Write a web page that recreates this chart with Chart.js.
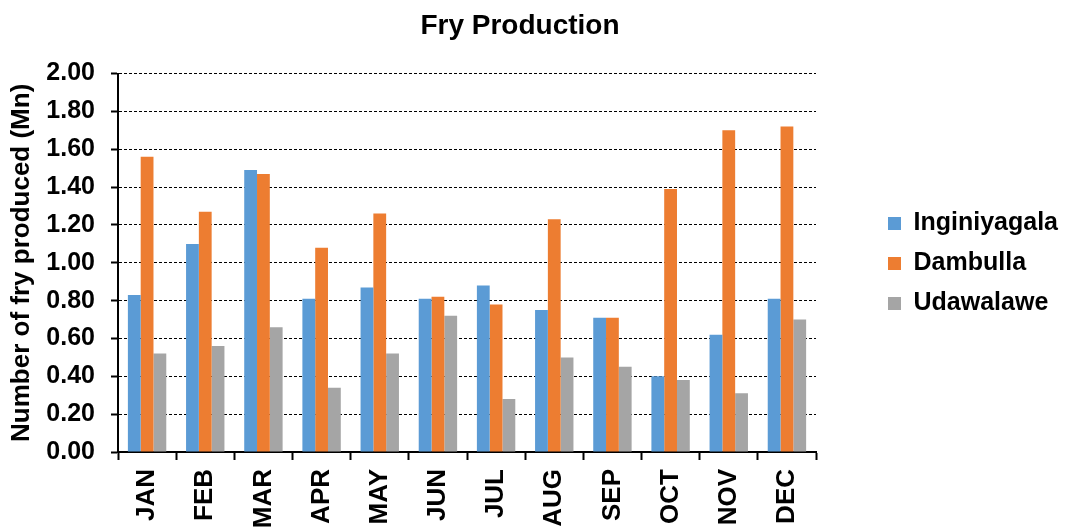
<!DOCTYPE html>
<html>
<head>
<meta charset="utf-8">
<title>Fry Production</title>
<script src="https://cdn.jsdelivr.net/npm/chart.js@4/dist/chart.umd.min.js"></script>
<style>
  html, body { margin: 0; padding: 0; background: #ffffff; }
  #wrap { width: 1068px; height: 527px; position: relative; }
</style>
</head>
<body>
<div id="wrap"><canvas id="fry"></canvas></div>
<script>
// Monthly fry production (millions) per hatchery
const months = ['JAN', 'FEB', 'MAR', 'APR', 'MAY', 'JUN', 'JUL', 'AUG', 'SEP', 'OCT', 'NOV', 'DEC'];
const inginiyagala = [0.83, 1.10, 1.49, 0.81, 0.87, 0.81, 0.88, 0.75, 0.71, 0.40, 0.62, 0.81];
const dambulla     = [1.56, 1.27, 1.47, 1.08, 1.26, 0.82, 0.78, 1.23, 0.71, 1.39, 1.70, 1.72];
const udawalawe    = [0.52, 0.56, 0.66, 0.34, 0.52, 0.72, 0.28, 0.50, 0.45, 0.38, 0.31, 0.70];
const yTickValues  = [0, 0.2, 0.4, 0.6, 0.8, 1.0, 1.2, 1.4, 1.6, 1.8, 2.0];

const FONT = '"Liberation Sans", Arial, sans-serif';

// Nudge the title slightly left of the full-width centre
const titleShift = {
  id: 'titleShift',
  afterLayout(chart) {
    const t = chart.titleBlock;
    if (t) { t.right -= 28; }
  }
};

new Chart(document.getElementById('fry'), {
  type: 'bar',
  data: {
    labels: months,
    datasets: [
      { label: 'Inginiyagala', data: inginiyagala, backgroundColor: '#5B9BD5', borderWidth: 0 },
      { label: 'Dambulla',     data: dambulla,     backgroundColor: '#ED7D31', borderWidth: 0 },
      { label: 'Udawalawe',    data: udawalawe,    backgroundColor: '#A5A5A5', borderWidth: 0 }
    ]
  },
  options: {
    responsive: true,
    maintainAspectRatio: false,
    animation: false,
    devicePixelRatio: 1,
    layout: { padding: 0 },
    datasets: {
      bar: { categoryPercentage: 0.66, barPercentage: 1.0 }
    },
    plugins: {
      tooltip: { enabled: false },
      title: {
        display: true,
        text: 'Fry Production',
        color: '#000000',
        font: { family: FONT, size: 28, weight: 'bold' },
        padding: { top: 9, bottom: 31 }
      },
      legend: {
        position: 'right',
        align: 'center',
        maxWidth: 260,
        labels: {
          color: '#000000',
          font: { family: FONT, size: 25, weight: 'bold' },
          boxWidth: 13,
          boxHeight: 13,
          padding: 15
        }
      }
    },
    scales: {
      x: {
        offset: true,
        grid: {
          offset: true,
          drawOnChartArea: false,
          drawTicks: true,
          tickLength: 8,
          tickColor: '#000000',
          tickWidth: 2
        },
        border: { display: true, color: '#000000', width: 2 },
        ticks: {
          autoSkip: false,
          minRotation: 90,
          maxRotation: 90,
          padding: 9,
          color: '#000000',
          font: { family: FONT, size: 26, weight: 'bold' }
        },
        afterFit(scale) { scale.height = 75; }
      },
      y: {
        min: 0,
        max: 2,
        afterBuildTicks(scale) {
          scale.ticks = yTickValues.map(v => ({ value: v }));
        },
        grid: {
          drawOnChartArea: true,
          color: '#000000',
          lineWidth: 1,
          drawTicks: true,
          tickLength: 7,
          tickColor: '#000000',
          tickWidth: 2,
          tickBorderDash: []
        },
        border: { display: true, color: '#000000', width: 2, dash: [3, 2] },
        ticks: {
          padding: 16,
          color: '#000000',
          font: { family: FONT, size: 25, weight: 'bold' },
          callback: v => Number(v).toFixed(2)
        },
        title: {
          display: true,
          text: 'Number of fry produced (Mn)',
          color: '#000000',
          font: { family: FONT, size: 26, weight: 'bold' },
          padding: { top: 6, bottom: 0 }
        },
        afterFit(scale) { scale.width = 118; }
      },
      // empty spacer between the plot and the legend
      gap: {
        type: 'linear',
        position: 'right',
        display: true,
        grid: { display: false, drawTicks: false },
        border: { display: false },
        ticks: { display: false },
        afterFit(scale) { scale.width = 57; }
      }
    }
  },
  plugins: [titleShift]
});
</script>
</body>
</html>
